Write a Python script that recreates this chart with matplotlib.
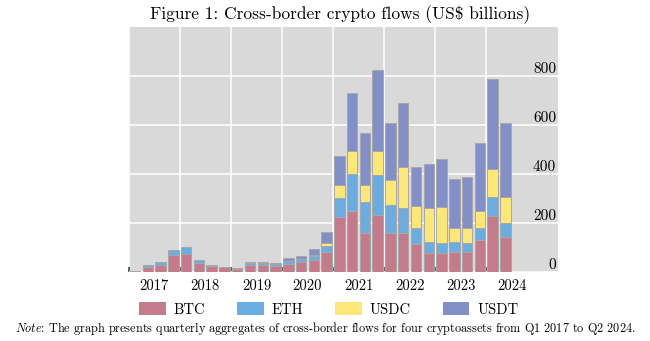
import matplotlib
matplotlib.use("Agg")
import matplotlib.pyplot as plt
from matplotlib.patches import Patch
import numpy as np

plt.rcParams["font.family"] = "serif"
plt.rcParams["font.serif"] = ["cmr10"]
plt.rcParams["mathtext.fontset"] = "cm"
plt.rcParams["axes.unicode_minus"] = False

# Quarterly cross-border flows, Q1 2017 .. Q2 2024 (US$ billions)
quarters = [f"Q{q} {y}" for y in range(2017, 2025) for q in range(1, 5)][:30]
btc = [3, 19, 27, 71, 73, 38, 24, 20, 13, 30, 30, 26, 35, 42, 50, 84,
       224, 250, 160, 231, 159, 158, 113, 78, 80, 83, 84, 131, 230, 142]
eth = [1, 8, 14, 20, 30, 12, 7, 2, 3, 8, 7, 6, 10, 10, 14, 22,
       79, 151, 126, 165, 116, 103, 67, 43, 38, 41, 36, 50, 77, 59]
usdc = [0, 0, 0, 0, 0, 0, 0, 0, 0, 0, 0, 0, 1, 1, 4, 14,
        53, 93, 70, 98, 101, 166, 88, 139, 149, 56, 58, 68, 112, 106]
usdt = [0, 0, 0, 0, 0, 0, 0, 0, 0, 2, 4, 5, 10, 12, 28, 42,
        119, 235, 213, 330, 233, 262, 161, 180, 196, 201, 208, 279, 369, 302]

series = {"BTC": btc, "ETH": eth, "USDC": usdc, "USDT": usdt}
colors = {"BTC": "#c47c8c", "ETH": "#6badE0", "USDC": "#fde877", "USDT": "#8390c8"}
years = list(range(2017, 2025))
yticks = [0, 200, 400, 600, 800]

x = 2017 + (np.arange(len(quarters)) + 0.5) / 4

fig = plt.figure(figsize=(6.5, 3.41), dpi=100)
ax = fig.add_axes([0.198, 0.202, 0.66, 0.719])
ax.set_facecolor("#d9d9d9")

bottom = np.zeros(len(quarters))
for name, vals in series.items():
    vals = np.array(vals, dtype=float)
    ax.bar(x, vals, width=0.205, bottom=bottom, color=colors[name],
           edgecolor="#a8a8a8", linewidth=0.7, zorder=3)
    bottom += vals

ax.set_xlim(2017, 2025.4)
ax.set_ylim(0, 1000)

# year labels at mid-year, gridlines at year boundaries
ax.set_xticks([y + 0.5 for y in years])
ax.set_xticklabels([str(y) for y in years], fontsize=10.5)
ax.set_xticks(years, minor=True)
ax.tick_params(axis="x", which="major", length=0, pad=5)
ax.tick_params(axis="x", which="minor", direction="in", length=3.5,
               width=1.2, color="#444444")
ax.grid(True, axis="x", which="minor", color="white", linewidth=1.1, zorder=1)

ax.yaxis.tick_right()
ax.set_yticks(yticks)
ax.set_yticklabels([str(v) for v in yticks], fontsize=11)
ax.tick_params(axis="y", length=0, pad=-1)
for lab in ax.get_yticklabels():
    lab.set_horizontalalignment("right")
    lab.set_verticalalignment("bottom")
ax.grid(True, axis="y", color="white", linewidth=1.1, zorder=1)

for s in ax.spines.values():
    s.set_visible(False)

fig.text(0.523, 0.958, r"Figure 1: Cross-border crypto flows (US\$ billions)",
         ha="center", va="center", fontsize=12.5)

handles = [Patch(facecolor=colors[n], edgecolor="none") for n in series]
fig.legend(handles, list(series.keys()), loc="center", bbox_to_anchor=(0.506, 0.093),
           ncol=4, frameon=False, fontsize=10.5, handlelength=1.8,
           handleheight=1.0, columnspacing=2.2, handletextpad=0.55)

fig.text(0.5, 0.037,
         r"$\mathit{Note}$: The graph presents quarterly aggregates of cross-border "
         r"flows for four cryptoassets from Q1 2017 to Q2 2024.",
         ha="center", va="center", fontsize=8.8)

fig.savefig("out.png", dpi=100)
